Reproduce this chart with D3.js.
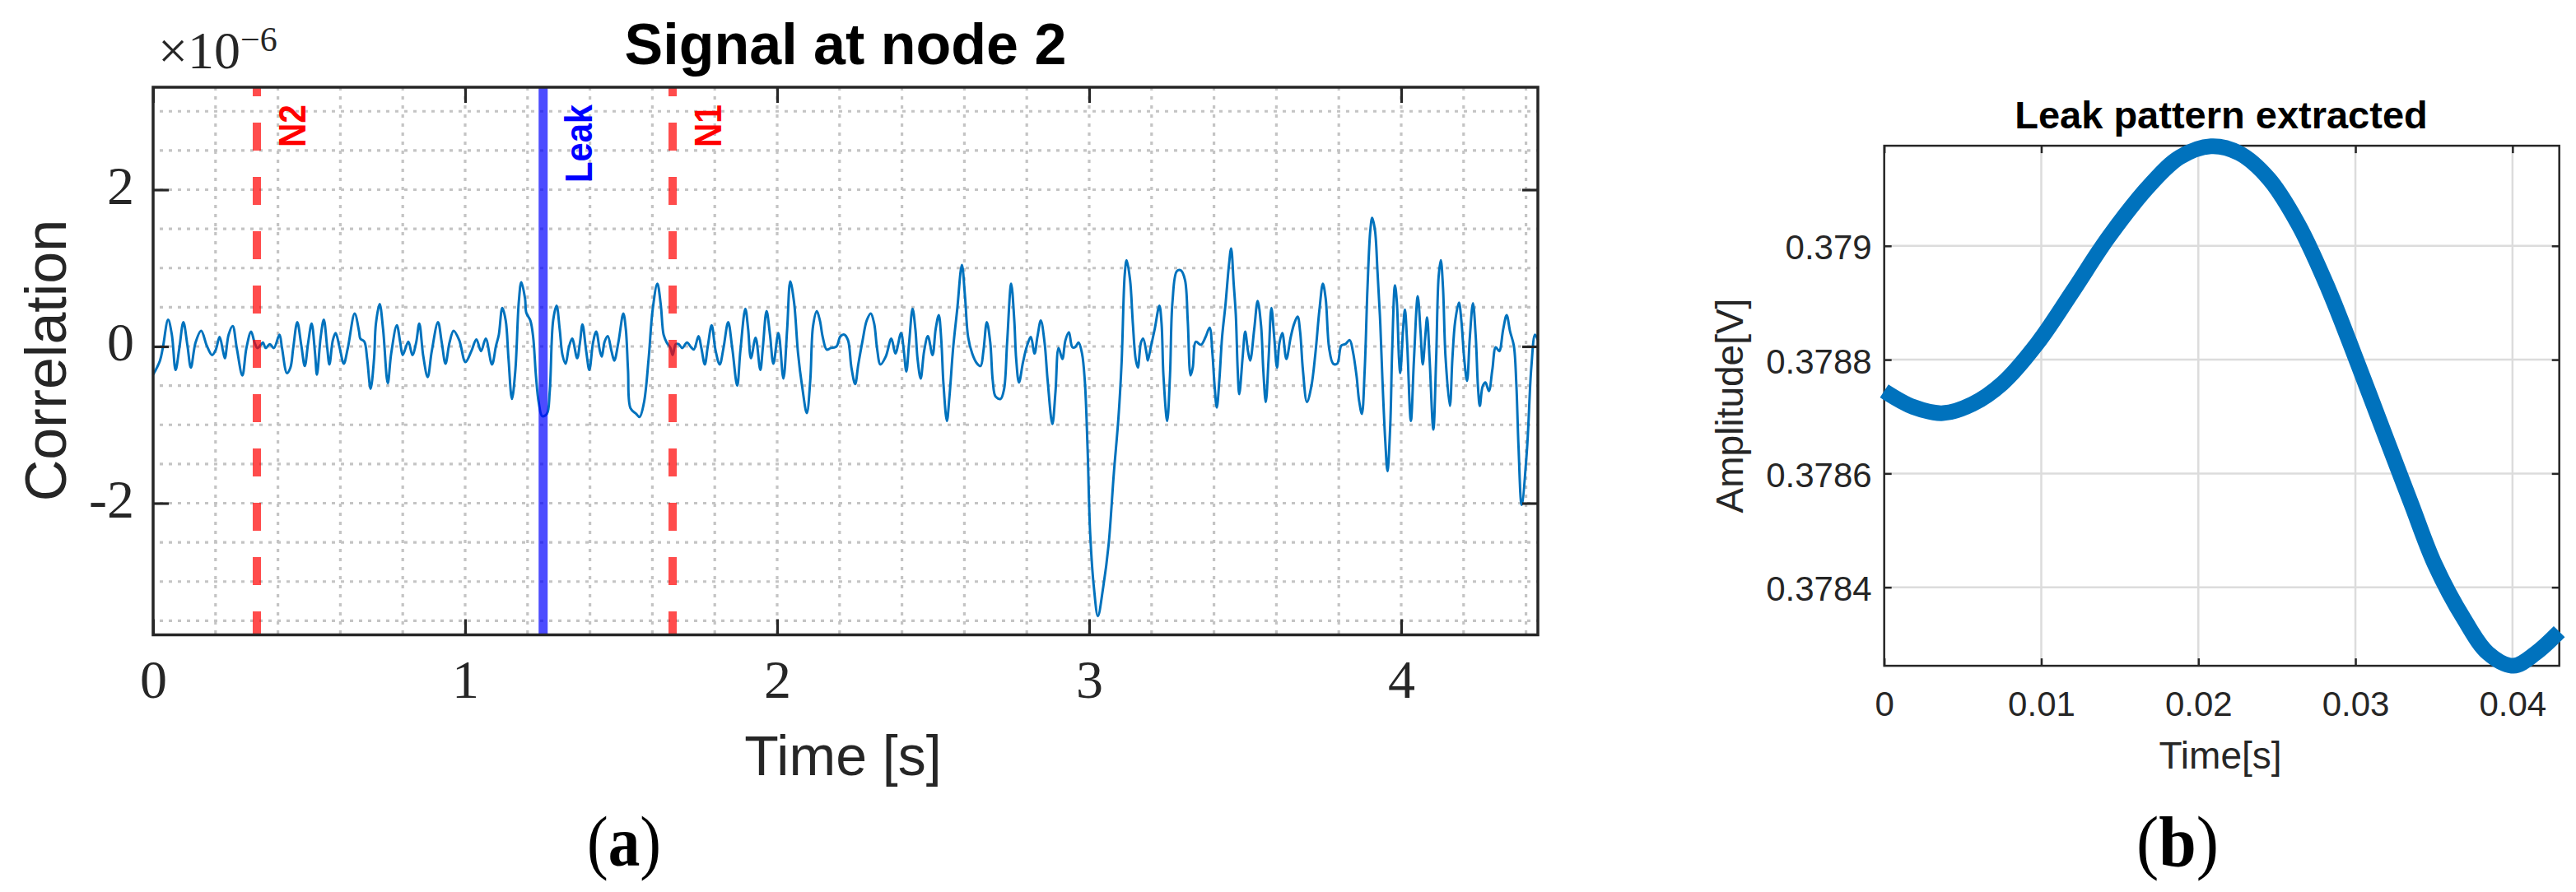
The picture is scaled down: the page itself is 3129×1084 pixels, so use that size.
<!DOCTYPE html>
<html><head><meta charset="utf-8">
<script src="https://cdn.jsdelivr.net/npm/d3@7"></script>
<style>body{margin:0;background:#fff}svg{display:block}</style>
</head><body>
<svg id="c" width="3129" height="1084"></svg>
<script>
// ---------- data: panel (a) correlation signal (×1e-6) ----------
const sigT = [0,0.022,0.031,0.048,0.060,0.072,0.084,0.097,0.110,0.121,0.136,0.154,0.172,0.189,0.201,0.213,0.224,0.230,0.242,0.255,0.268,0.286,0.299,0.314,0.325,0.334,0.347,0.352,0.361,0.374,0.387,0.405,0.413,0.429,0.440,0.449,0.462,0.475,0.486,0.497,0.508,0.519,0.525,0.537,0.547,0.558,0.565,0.576,0.585,0.598,0.611,0.624,0.646,0.660,0.664,0.677,0.686,0.697,0.708,0.714,0.726,0.737,0.752,0.763,0.781,0.792,0.800,0.818,0.831,0.843,0.853,0.866,0.880,0.893,0.913,0.925,0.937,0.950,0.963,0.981,1.001,1.020,1.036,1.051,1.066,1.086,1.099,
1.108,1.119,1.130,1.139,1.150,1.161,1.172,1.180,1.192,1.196,1.209,1.218,1.227,1.236,1.247,1.262,1.271,1.282,1.293,1.303,1.312,1.322,1.332,1.343,1.359,1.368,1.376,1.388,1.398,1.410,1.420,1.432,1.438,1.447,1.457,1.469,1.478,1.491,1.507,1.515,1.522,1.530,1.548,1.559,1.573,1.588,1.601,1.616,1.627,1.636,1.646,1.658,1.665,1.675,1.684,1.696,1.711,1.724,1.733,1.748,1.757,1.768,1.778,1.790,1.803,1.816,1.828,1.843,1.856,1.872,1.882,1.898,1.907,1.916,1.931,1.946,1.954,1.966,1.977,1.988,2.004,2.020,2.032,2.042,2.054,2.067,2.080,2.095,2.106,2.115,2.127,2.137,2.146,2.159,2.172,2.186,2.192,2.203,2.215,
2.227,2.238,2.250,2.260,2.274,2.287,2.300,2.311,2.320,2.331,2.348,2.366,2.379,2.397,2.406,2.414,2.423,2.434,2.443,2.450,2.460,2.471,2.483,2.498,2.508,2.518,2.526,2.533,2.544,2.552,2.564,2.577,2.592,2.602,2.612,2.625,2.639,2.652,2.661,2.672,2.683,2.691,2.700,2.716,2.727,2.737,2.750,2.760,2.766,2.775,2.788,2.801,2.813,2.825,2.834,2.845,2.857,2.867,2.882,2.892,2.902,2.914,2.924,2.935,2.946,2.955,2.966,2.977,2.986,2.995,3.003,3.015,3.028,3.045,3.062,3.079,3.094,3.104,3.114,3.120,3.131,3.140,3.149,3.156,3.166,3.173,3.184,3.188,3.197,3.210,3.225,3.232,3.238,3.250,3.259,3.267,3.281,3.294,3.307,3.316,3.325,
3.332,3.342,3.358,3.373,3.386,3.395,3.402,3.409,3.417,3.426,3.437,3.448,3.455,3.463,3.470,3.476,3.481,3.492,3.500,3.509,3.516,3.529,3.540,3.551,3.558,3.566,3.575,3.584,3.593,3.602,3.610,3.619,3.632,3.646,3.657,3.668,3.676,3.685,3.698,3.712,3.725,3.738,3.749,3.758,3.769,3.782,3.795,3.808,3.821,3.835,3.845,3.857,3.865,3.874,3.883,3.892,3.901,3.907,3.916,3.924,3.933,3.940,3.949,3.956,3.965,3.971,3.980,3.986,3.993,3.997,4.006,4.012,4.019,4.031,4.041,4.053,4.062,4.069,4.077,4.083,4.091,4.103,4.112,4.120,4.127,4.134,4.142,4.156,4.164,4.173,4.185,4.193,4.202,4.211,4.220,4.230,4.239,4.246,4.252,4.261,4.270,4.281,4.292,4.303,4.314,4.327,4.338,4.349,4.361,4.369,4.376,4.386,4.403,4.417,4.429,4.438];
const sigV = [-0.36,-0.18,-0.02,0.34,0.15,-0.30,-0.02,0.31,0.01,-0.27,0.05,0.20,0.01,-0.11,-0.04,0.12,-0.06,-0.15,0.15,0.26,-0.02,-0.37,-0.02,0.19,0.05,-0.02,0.03,0.05,-0.02,0.03,-0.02,0.15,-0.02,-0.34,-0.27,-0.02,0.31,0.01,-0.25,0.05,0.29,-0.09,-0.36,0.12,0.34,-0.02,-0.23,0.08,0.17,-0.02,-0.22,-0.02,0.42,0.19,0.10,0.06,-0.16,-0.54,-0.16,0.29,0.54,0.22,-0.47,-0.09,0.27,0.05,-0.11,0.06,-0.11,0.05,0.29,-0.13,-0.39,-0.06,0.31,0.05,-0.22,0.05,0.20,0.08,-0.20,-0.06,0.09,-0.06,0.10,-0.23,0.01,
0.15,0.49,0.33,-0.16,-0.67,-0.30,0.57,0.82,0.61,0.43,0.33,0.12,-0.38,-0.72,-0.89,-0.86,-0.58,0.33,0.52,0.22,-0.11,-0.22,-0.02,0.10,-0.15,0.05,0.28,-0.06,-0.30,0.05,0.19,-0.06,-0.13,0.06,0.13,-0.06,-0.18,0.05,0.42,0.22,-0.30,-0.79,-0.86,-0.90,-0.72,-0.16,0.47,0.80,0.53,0.15,0.05,-0.02,-0.11,0.03,0.03,-0.02,0.05,-0.01,-0.04,0.13,-0.02,-0.23,0.01,0.27,-0.06,-0.23,-0.02,0.31,-0.02,-0.50,-0.06,0.48,0.22,-0.15,0.11,-0.30,-0.02,0.45,0.15,-0.22,0.17,-0.41,0.22,0.83,0.57,-0.09,-0.51,-0.85,-0.44,0.26,0.45,0.33,0.12,-0.04,-0.02,-0.01,0.01,0.13,0.15,
0.08,-0.27,-0.48,-0.23,0.08,0.33,0.42,0.29,-0.02,-0.23,-0.13,0.10,-0.09,0.17,-0.06,-0.32,0.05,0.48,0.22,-0.16,-0.41,-0.06,0.13,-0.11,0.22,0.40,0.08,-0.48,-0.95,-0.65,-0.02,0.47,1.04,0.64,0.12,-0.09,-0.21,-0.25,-0.06,0.31,0.05,-0.44,-0.64,-0.67,-0.55,0.05,0.80,0.33,-0.16,-0.46,-0.20,0.01,0.12,-0.09,0.12,0.33,0.05,-0.44,-0.99,-0.58,-0.02,-0.16,0.08,0.18,-0.01,-0.01,0.05,-0.09,-0.44,-1.32,-2.37,-3.07,-3.44,-3.07,-2.54,-1.62,-0.90,-0.20,0.92,1.10,0.85,0.29,-0.16,-0.27,0.05,0.10,-0.09,-0.18,-0.02,0.22,0.52,0.29,-0.37,-0.95,-0.37,0.57,0.96,0.97,0.85,0.32,-0.37,
-0.27,0.06,0.02,0.12,0.24,-0.09,-0.51,-0.78,-0.44,0.12,0.54,1.04,1.25,0.81,0.40,-0.30,-0.61,-0.13,0.19,-0.06,-0.18,0.22,0.58,0.26,-0.30,-0.71,-0.16,0.49,0.12,-0.27,0.05,0.17,-0.16,0.12,0.29,0.38,0.19,-0.30,-0.71,-0.51,-0.09,0.47,0.80,0.61,-0.02,-0.22,-0.22,0.01,0.03,0.08,-0.06,-0.38,-0.69,-0.86,-0.30,0.75,1.48,1.64,1.48,0.96,0.29,-0.44,-1.21,-1.59,-1.00,-0.06,0.78,0.57,-0.16,-0.34,0.22,0.47,0.05,-0.95,-0.16,0.64,0.19,-0.23,0.12,0.37,-0.16,-1.06,-0.16,0.89,1.10,0.75,-0.13,-0.76,-0.16,0.32,0.56,0.32,-0.16,-0.44,0.12,0.55,0.12,-0.51,-0.76,-0.51,-0.46,-0.57,-0.30,-0.01,-0.06,0.22,0.40,0.19,0.01,-0.48,-1.28,-2.02,-1.32,-0.27,0.15,0.08];
const markerNames = ["N2", "Leak", "N1"];
const markerTimes = [0.3325, 1.25, 1.665];
const xTicksA = [0, 1, 2, 3, 4];
const yTicksA = [-2, 0, 2];
const yTickLabelsA = ["-2", "0", "2"];

// ---------- data: panel (b) leak pattern ----------
const leakT = [0,0.00185,0.00374,0.00562,0.00751,0.00976,0.0120,0.0143,0.01695,0.01883,0.0208,0.0226,0.02449,0.02638,0.02827,0.03015,0.03204,0.03354,0.03506,0.03694,0.03845,0.04006,0.04147,0.04298];
const leakV = [0.378745,0.378717,0.378706,0.378722,0.378758,0.378829,0.378920,0.379016,0.379108,0.379156,0.379175,0.379163,0.379118,0.379037,0.378925,0.378793,0.378656,0.378548,0.378440,0.378343,0.378284,0.378262,0.378284,0.378322];
const xTicksB = [0, 0.01, 0.02, 0.03, 0.04];
const xTickLabelsB = ["0", "0.01", "0.02", "0.03", "0.04"];
const yTicksB = [0.3784, 0.3786, 0.3788, 0.379];
const yTickLabelsB = ["0.3784", "0.3786", "0.3788", "0.379"];

const SANS = "'Liberation Sans', Arial, sans-serif";
const SERIF = "'Liberation Serif', 'Times New Roman', serif";
const AX = "#262626";
const svg = d3.select("#c");

// =============== Panel (a) ===============
const xA = d3.scaleLinear().domain([0, 4.438]).range([186, 1868]);
const yA = d3.scaleLinear().domain([-3.68, 3.307]).range([771.5, 106]);
const gA = svg.append("g");

// dotted grid (major + minor)
const gridXA = d3.range(1, 23).map(i => +(i * 0.2).toFixed(2));
const gridYA = d3.range(-7, 7).map(i => i * 0.5);
gA.append("g").selectAll("line").data(gridXA).join("line")
  .attr("x1", d => xA(d)).attr("x2", d => xA(d))
  .attr("y1", yA.range()[1]).attr("y2", yA.range()[0])
  .attr("stroke", "#c4c4c4").attr("stroke-width", 3.2).attr("stroke-dasharray", "4 7");
gA.append("g").selectAll("line").data(gridYA).join("line")
  .attr("y1", d => yA(d)).attr("y2", d => yA(d))
  .attr("x1", xA.range()[0]).attr("x2", xA.range()[1])
  .attr("stroke", "#c4c4c4").attr("stroke-width", 3.2).attr("stroke-dasharray", "4 7").attr("stroke-dashoffset", 3);

// signal
const sig = sigT.map((t, i) => ({t, v: sigV[i]}));
gA.append("path").datum(sig)
  .attr("fill", "none").attr("stroke", "#0072BD").attr("stroke-width", 3)
  .attr("stroke-linejoin", "round")
  .attr("d", d3.line().x(d => xA(d.t)).y(d => yA(d.v)).curve(d3.curveCatmullRom.alpha(0.5)));

// marker lines
const markers = markerNames.map((n, i) => ({n, t: markerTimes[i], leak: n === "Leak"}));
gA.append("g").selectAll("line").data(markers).join("line")
  .attr("x1", d => xA(d.t)).attr("x2", d => xA(d.t))
  .attr("y1", yA.range()[1]).attr("y2", yA.range()[0])
  .attr("stroke", d => d.leak ? "#0000ff" : "#ff0000")
  .attr("stroke-opacity", 0.7)
  .attr("stroke-width", d => d.leak ? 11 : 10)
  .attr("stroke-dasharray", d => d.leak ? null : "34 32")
  .attr("stroke-dashoffset", d => d.leak ? null : 23);
gA.append("g").selectAll("text").data(markers).join("text")
  .attr("transform", d => `translate(${xA(d.t) + 59},127) rotate(-90)`)
  .attr("text-anchor", "end")
  .attr("font-family", SANS).attr("font-weight", "bold").attr("font-size", 46)
  .attr("textLength", d => d.leak ? 95 : 52).attr("lengthAdjust", "spacingAndGlyphs")
  .attr("fill", d => d.leak ? "#0000ff" : "#ff0000")
  .text(d => d.n);

// axes
function styleAxis(g, fam, size) {
  g.select(".domain").remove();
  g.attr("color", AX);
  g.selectAll(".tick line").attr("stroke-width", 3.2);
  g.selectAll("text").attr("font-family", fam).attr("font-size", size).attr("fill", AX);
}
const axB = gA.append("g").attr("transform", "translate(0,771.5)")
  .call(d3.axisBottom(xA).tickValues(xTicksA).tickSizeInner(-19).tickSizeOuter(0).tickFormat(d3.format("d")));
styleAxis(axB, SERIF, 66);
axB.selectAll("text").attr("y", 76.5).attr("dy", 0);
const axT = gA.append("g").attr("transform", "translate(0,106)")
  .call(d3.axisTop(xA).tickValues(xTicksA).tickSizeInner(-19).tickSizeOuter(0).tickFormat(""));
styleAxis(axT, SERIF, 66);
const axL = gA.append("g").attr("transform", "translate(186,0)")
  .call(d3.axisLeft(yA).tickValues(yTicksA).tickSizeInner(-19).tickSizeOuter(0).tickPadding(23)
    .tickFormat((d, i) => yTickLabelsA[i]));
styleAxis(axL, SERIF, 66);
axL.selectAll("text").attr("dy", 0).attr("y", 17);
const axR = gA.append("g").attr("transform", "translate(1868,0)")
  .call(d3.axisRight(yA).tickValues(yTicksA).tickSizeInner(-19).tickSizeOuter(0).tickFormat(""));
styleAxis(axR, SERIF, 66);
gA.append("rect").attr("x", 186).attr("y", 106).attr("width", 1868 - 186).attr("height", 771.5 - 106)
  .attr("fill", "none").attr("stroke", AX).attr("stroke-width", 3.5);

// exponent label
const ex = gA.append("text").attr("x", 192).attr("y", 83).attr("font-family", SERIF).attr("fill", AX);
ex.append("tspan").attr("font-size", 64).text("×10");
ex.append("tspan").attr("font-size", 42).attr("dy", -21).text("−6");

gA.append("text").attr("x", 1027).attr("y", 78).attr("text-anchor", "middle")
  .attr("font-family", SANS).attr("font-weight", "bold").attr("font-size", 70).attr("fill", "#000")
  .text("Signal at node 2");
gA.append("text").attr("x", 1024).attr("y", 942).attr("text-anchor", "middle")
  .attr("font-family", SANS).attr("font-size", 68).attr("fill", AX).text("Time [s]");
gA.append("text").attr("transform", "translate(80,438) rotate(-90)").attr("text-anchor", "middle")
  .attr("font-family", SANS).attr("font-size", 70).attr("fill", AX).text("Correlation");
const la = gA.append("text").attr("x", 758).attr("y", 1052).attr("text-anchor", "middle")
  .attr("font-family", SERIF).attr("font-size", 86).attr("fill", "#000")
  .attr("textLength", 90).attr("lengthAdjust", "spacingAndGlyphs");
la.append("tspan").text("(");
la.append("tspan").attr("font-weight", "bold").text("a");
la.append("tspan").text(")");

// =============== Panel (b) ===============
const xB = d3.scaleLinear().domain([0, 0.04298]).range([2288.7, 3108.7]);
const yB = d3.scaleLinear().domain([0.378262, 0.379176]).range([809.1, 177.1]);
const gB = svg.append("g");

gB.append("g").selectAll("line").data(xTicksB.slice(1)).join("line")
  .attr("x1", d => xB(d)).attr("x2", d => xB(d))
  .attr("y1", yB.range()[1]).attr("y2", yB.range()[0])
  .attr("stroke", "#dcdcdc").attr("stroke-width", 2.5);
gB.append("g").selectAll("line").data(yTicksB).join("line")
  .attr("y1", d => yB(d)).attr("y2", d => yB(d))
  .attr("x1", xB.range()[0]).attr("x2", xB.range()[1])
  .attr("stroke", "#dcdcdc").attr("stroke-width", 2.5);

const bxB = gB.append("g").attr("transform", "translate(0,809.1)")
  .call(d3.axisBottom(xB).tickValues(xTicksB).tickSizeInner(-9).tickSizeOuter(0)
    .tickFormat((d, i) => xTickLabelsB[i]));
styleAxis(bxB, SANS, 42);
bxB.selectAll(".tick line").attr("stroke-width", 2.5);
bxB.selectAll("text").attr("y", 61).attr("dy", 0);
const txB = gB.append("g").attr("transform", "translate(0,177.1)")
  .call(d3.axisTop(xB).tickValues(xTicksB).tickSizeInner(-9).tickSizeOuter(0).tickFormat(""));
styleAxis(txB, SANS, 42);
txB.selectAll(".tick line").attr("stroke-width", 2.5);
const lyB = gB.append("g").attr("transform", "translate(2288.7,0)")
  .call(d3.axisLeft(yB).tickValues(yTicksB).tickSizeInner(-9).tickSizeOuter(0).tickPadding(15)
    .tickFormat((d, i) => yTickLabelsB[i]));
styleAxis(lyB, SANS, 42);
lyB.selectAll(".tick line").attr("stroke-width", 2.5);
lyB.selectAll("text").attr("dy", 0).attr("y", 16);
const ryB = gB.append("g").attr("transform", "translate(3108.7,0)")
  .call(d3.axisRight(yB).tickValues(yTicksB).tickSizeInner(-9).tickSizeOuter(0).tickFormat(""));
styleAxis(ryB, SANS, 42);
ryB.selectAll(".tick line").attr("stroke-width", 2.5);
gB.append("rect").attr("x", 2288.7).attr("y", 177.1).attr("width", 3108.7 - 2288.7).attr("height", 809.1 - 177.1)
  .attr("fill", "none").attr("stroke", AX).attr("stroke-width", 2.5);

const leak = leakT.map((t, i) => ({t, v: leakV[i]}));
gB.append("path").datum(leak)
  .attr("fill", "none").attr("stroke", "#0072BD").attr("stroke-width", 19)
  .attr("d", d3.line().x(d => xB(d.t)).y(d => yB(d.v)).curve(d3.curveCatmullRom.alpha(0.5)));

gB.append("text").attr("x", 2698).attr("y", 156).attr("text-anchor", "middle")
  .attr("font-family", SANS).attr("font-weight", "bold").attr("font-size", 47).attr("fill", "#000")
  .text("Leak pattern extracted");
gB.append("text").attr("x", 2697).attr("y", 934).attr("text-anchor", "middle")
  .attr("font-family", SANS).attr("font-size", 46).attr("fill", AX).text("Time[s]");
gB.append("text").attr("transform", "translate(2117,493) rotate(-90)").attr("text-anchor", "middle")
  .attr("font-family", SANS).attr("font-size", 46).attr("fill", AX).text("Amplitude[V]");
const lb = gB.append("text").attr("x", 2645).attr("y", 1052).attr("text-anchor", "middle")
  .attr("font-family", SERIF).attr("font-size", 86).attr("fill", "#000")
  .attr("textLength", 100).attr("lengthAdjust", "spacingAndGlyphs");
lb.append("tspan").text("(");
lb.append("tspan").attr("font-weight", "bold").text("b");
lb.append("tspan").text(")");
</script>
</body></html>
